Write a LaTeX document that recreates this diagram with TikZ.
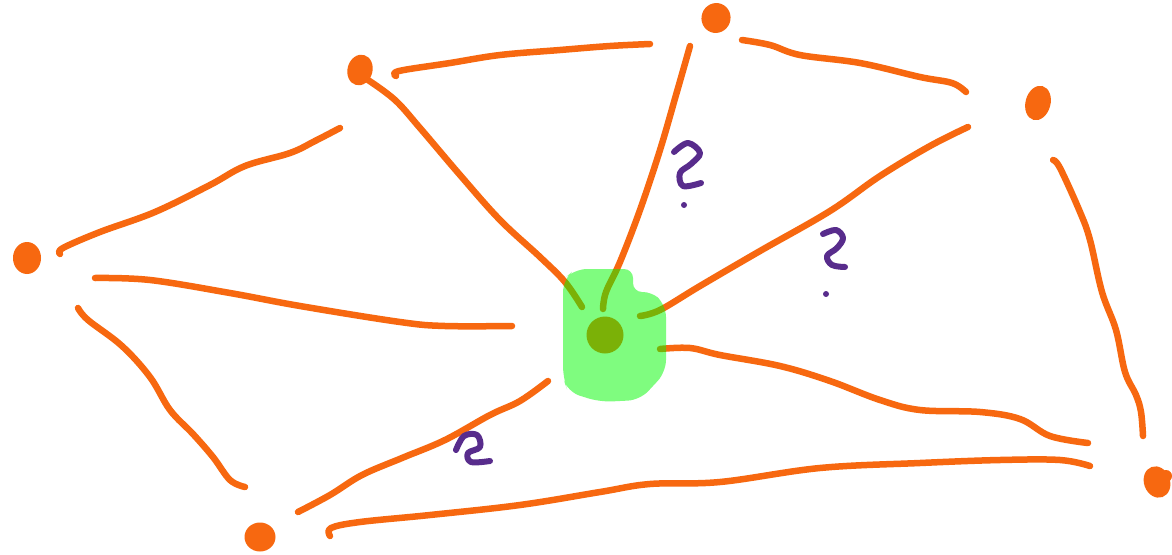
\documentclass[tikz,border=0pt]{standalone}
\usetikzlibrary{shapes.geometric}
\definecolor{penorange}{RGB}{247,104,16}
\definecolor{penpurple}{RGB}{88,44,140}
\definecolor{hlgreen}{RGB}{0,250,0}
\tikzset{
  stroke/.style={draw=penorange,line width=6.5pt,line cap=round,line join=round},
  qmark/.style={draw=penpurple,line width=6pt,line cap=round,line join=round},
  dotnode/.style={ellipse,fill=penorange,inner sep=0pt},
}
\begin{document}
\begin{tikzpicture}[x=1pt,y=-1pt]
\useasboundingbox (0,0) rectangle (1172,554);
\fill[white] (0,0) rectangle (1172,554);
% nodes
\node[dotnode,minimum width=28pt,minimum height=32pt] (A) at (27,258) {};
\node[dotnode,minimum width=25pt,minimum height=31pt,rotate=-15] (B) at (360,70) {};
\node[dotnode,minimum width=29pt,minimum height=30pt,rotate=-20] (C) at (716,18) {};
\node[dotnode,minimum width=25pt,minimum height=35pt,rotate=-15] (D) at (1038,103) {};
\node[dotnode,minimum width=26pt,minimum height=32pt,rotate=20] (E) at (1157,482) {};
\fill[penorange] (1166,476) circle (6pt);
\node[dotnode,minimum width=31pt,minimum height=29pt] (F) at (260,537) {};
\node[dotnode,minimum width=37pt,minimum height=37pt] (M) at (605,335) {};
% hand-drawn edges
\draw[stroke] plot[smooth,tension=0.6] coordinates {(60,254) (63,248) (100,232) (155,212) (210,185) (245,166) (290,153) (315,141) (340,128)};
\draw[stroke] plot[smooth,tension=0.6] coordinates {(95,278) (150,280) (230,293) (300,306) (400,322) (445,326) (512,326)};
\draw[stroke] plot[smooth,tension=0.6] coordinates {(78,308) (88,320) (122,346) (150,377) (170,410) (193,434) (213,457) (230,480) (245,487)};
\draw[stroke] plot[smooth,tension=0.6] coordinates {(396,76) (399,71) (450,63) (500,55) (560,50) (610,46) (650,44)};
\draw[stroke] plot[smooth,tension=0.6] coordinates {(368,80) (395,100) (420,128) (460,175) (500,220) (540,257) (565,282) (582,307)};
\draw[stroke] plot[smooth,tension=0.6] coordinates {(690,46) (676,95) (660,150) (640,210) (620,262) (606,292) (603,309)};
\draw[stroke] plot[smooth,tension=0.6] coordinates {(742,40) (770,45) (800,55) (860,63) (920,77) (952,83) (966,92)};
\draw[stroke] plot[smooth,tension=0.6] coordinates {(968,127) (930,146) (880,176) (830,211) (760,251) (700,286) (660,310) (640,316)};
\draw[stroke] plot[smooth,tension=0.6] coordinates {(1053,160) (1060,168) (1080,212) (1090,240) (1102,292) (1116,330) (1125,372) (1136,395) (1141,412) (1143,436)};
\draw[stroke] plot[smooth,tension=0.6] coordinates {(660,349) (690,348) (720,355) (780,366) (830,381) (880,400) (920,410) (980,412) (1020,419) (1050,436) (1088,443)};
\draw[stroke] plot[smooth,tension=0.6] coordinates {(298,512) (330,495) (362,475) (402,458) (445,440) (490,415) (520,401) (548,381)};
\draw[stroke] plot[smooth,tension=0.6] coordinates {(330,536) (331,528) (360,522) (430,515) (520,505) (600,492) (650,484) (720,482) (820,468) (920,463) (1000,460) (1060,460) (1090,466)};
% question marks
\draw[qmark] plot[smooth,tension=0.6] coordinates {(674,152) (688,143) (700,153) (691,164) (680,173) (683,186) (701,183)};
\fill[penpurple] (684,205) circle (3pt);
\draw[qmark] plot[smooth,tension=0.6] coordinates {(823,234) (836,230) (843,238) (837,248) (827,256) (832,265) (845,267)};
\fill[penpurple] (826,294) circle (3pt);
\draw[qmark] plot[smooth,tension=0.6] coordinates {(456,450) (464,436) (477,435) (480,447) (468,453) (471,462) (490,461)};
% green highlighter
\fill[hlgreen,opacity=0.5,rounded corners=9pt] (575,269) -- (633,269) -- (633,292) -- (652,292) [rounded corners=12pt] -- (666,305) -- (666,372) -- (640,400) -- (600,402) -- (568,392) -- (563,378) -- (563,280) -- cycle;
\end{tikzpicture}
\end{document}
